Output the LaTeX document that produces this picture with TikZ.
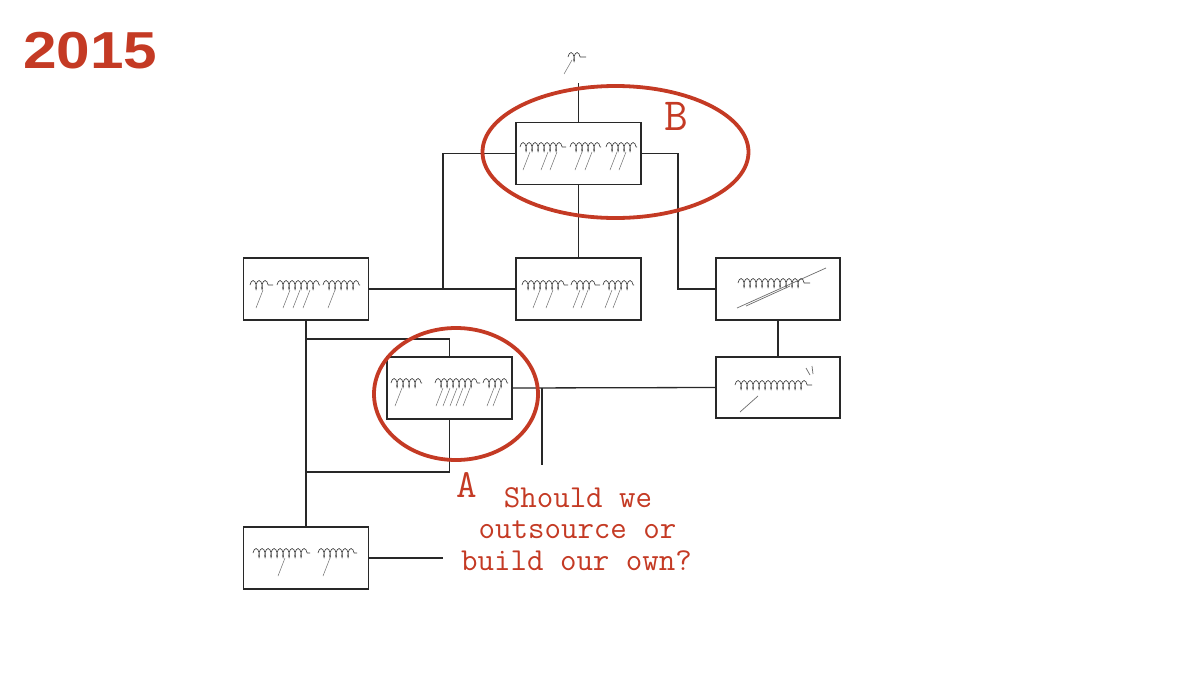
\documentclass[tikz,border=0pt]{standalone}
\usepackage{fontspec}
\newfontfamily\headf{Liberation Sans}
\usetikzlibrary{decorations.pathmorphing,shapes.geometric}
\definecolor{mark}{RGB}{196,58,36}
\definecolor{ink}{RGB}{40,40,40}
\definecolor{tg}{RGB}{60,60,60}
\tikzset{
  box/.style={draw=ink, line width=1.3pt, minimum width=125pt, minimum height=62pt, inner sep=0pt, fill=white},
  wire/.style={draw=ink, line width=1.3pt},
  tgw/.style={draw=tg, line width=0.65pt, decorate, decoration={coil, amplitude=4.5pt, segment length=6pt, aspect=0.35}},
  tgd/.style={draw=tg!75, line width=0.5pt},
  ring/.style={draw=mark, line width=3.8pt, ellipse, inner sep=0pt},
  redtext/.style={text=mark, inner sep=0pt, font=\ttfamily\addfontfeatures{FakeBold=1.2}\fontsize{32}{32}\selectfont},
}
\newcommand\tgword[3]{\draw[tgw] (#1,#3) -- (#2,#3);}
\newcommand\tgdesc[2]{\draw[tgd] (#1,#2) -- ++(-7,18);}
\begin{document}
\begin{tikzpicture}[x=1pt,y=-1pt]
\useasboundingbox (0,0) rectangle (1200,675);
% title
\node[anchor=base west, inner sep=0pt, text=mark, font=\headf\bfseries\fontsize{52}{52}\selectfont] (title) at (23,68) {\scalebox{1.16}[1]{2015}};
% junction coordinates
\coordinate (ctop) at (578.5,83);
\coordinate (jl) at (443,289);
\coordinate (jr) at (678,289);
\coordinate (dj) at (542,388);
\coordinate (dend) at (542,465);
\coordinate (ja1) at (306,339);
\coordinate (ja2) at (306,472);
\coordinate (qe) at (443,558);
% boxes
\node[box] (bB) at (578.5,153.5) {};
\node[box] (bM) at (578.5,289) {};
\node[box] (bL) at (306,289) {};
\node[box, minimum width=124pt] (bR1) at (778,289) {};
\node[box, minimum width=124pt, minimum height=61pt] (bR2) at (778,387.5) {};
\node[box] (bA) at (449.5,388) {};
\node[box] (bBt) at (306,558) {};
% wires
\draw[wire] (ctop) -- (bB.north);
\draw[wire] (bB.west) -| (jl);
\draw[wire] (bL.east) -- (bM.west);
\draw[wire] (bB.east) -| (jr) -- (bR1.west);
\draw[wire] (bB.south) -- (bM.north);
\draw[wire] (bR1.south) -- (bR2.north);
\draw[wire] (bA.east) -- (bR2.west);
\draw[wire] (dj) -- (dend);
\draw[wire] (bL.south) -- (bBt.north);
\draw[wire] (ja1) -| (bA.north);
\draw[wire] (bA.south) |- (ja2);
\draw[wire] (bBt.east) -- (qe);
% script-like labels (drawn)
\tgword{568}{586}{57}
\draw[tgd] (572,60) -- (564,74);
\tgword{520}{566}{147}\tgword{570}{601}{147}\tgword{606}{637}{147}
\tgdesc{530}{152}\tgdesc{548}{152}\tgdesc{557}{152}\tgdesc{582}{152}\tgdesc{592}{152}\tgdesc{617}{152}\tgdesc{626}{152}
\tgword{250}{273}{285}\tgword{277}{320}{285}\tgword{323}{360}{285}
\tgdesc{263}{290}\tgdesc{290}{290}\tgdesc{300}{290}\tgdesc{310}{290}\tgdesc{335}{290}
\tgword{522}{568}{285}\tgword{571}{600}{285}\tgword{603}{634}{285}
\tgdesc{540}{290}\tgdesc{553}{290}\tgdesc{580}{290}\tgdesc{588}{290}\tgdesc{612}{290}\tgdesc{620}{290}
\tgword{738}{810}{283}
\draw[tgd, line width=0.7pt] (737,308) -- (826,268);
\draw[tgd, line width=0.7pt] (746,306) -- (790,286);
\tgword{735}{812}{385}
\draw[tgd, line width=0.7pt] (740,412) -- (758,396);
\draw[tgd, line width=0.7pt] (806,368) -- (810,375) (812,366) -- (813,374);
\tgword{391}{422}{383}\tgword{435}{480}{383}\tgword{483}{508}{383}
\tgdesc{402}{388}\tgdesc{443}{388}\tgdesc{450}{388}\tgdesc{457}{388}\tgdesc{463}{388}\tgdesc{470}{388}\tgdesc{494}{388}\tgdesc{500}{388}
\tgword{253}{310}{553}\tgword{318}{357}{553}
\tgdesc{285}{558}\tgdesc{330}{558}
% red rings
\node[ring, minimum width=266pt, minimum height=132pt] (eB) at (615.5,152) {};
\node[ring, minimum width=164pt, minimum height=132pt] (eA) at (456,394) {};
% red letters and question
\node[anchor=base, text=mark, inner sep=0pt, font=\ttfamily\addfontfeatures{FakeBold=1.2}\fontsize{46}{46}\selectfont] (lB) at (676,130) {B};
\node[anchor=base, text=mark, inner sep=0pt, font=\ttfamily\addfontfeatures{FakeBold=1.2}\fontsize{40}{40}\selectfont] (lA) at (466.5,497) {A};
\node[redtext, anchor=base] (q1) at (578,507) {Should we};
\node[redtext, anchor=base] (q2) at (577.5,538.5) {outsource or};
\node[redtext, anchor=base] (q3) at (576.5,570) {build our own?};
\end{tikzpicture}
\end{document}
